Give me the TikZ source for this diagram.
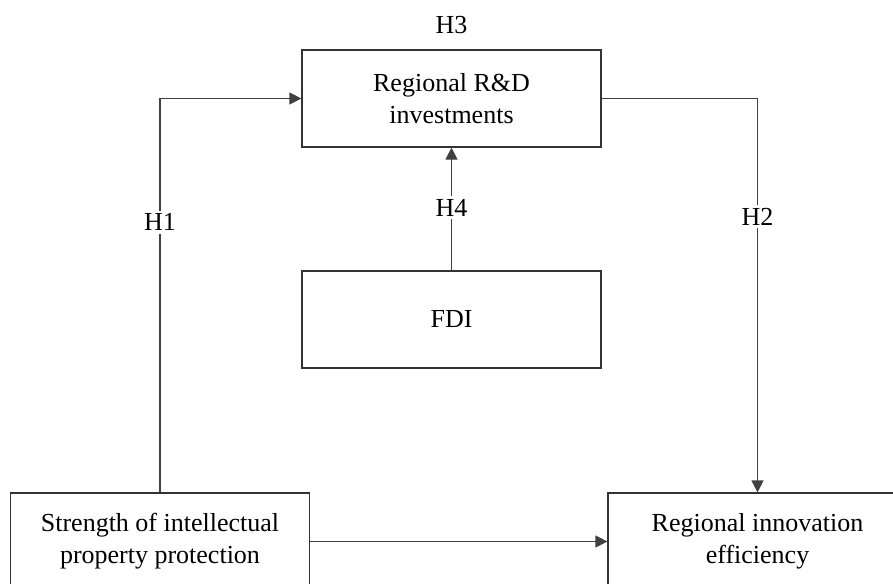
\documentclass[tikz,border=0pt]{standalone}
\usepackage{fontspec}
\setmainfont{Liberation Serif}
\usetikzlibrary{arrows.meta,positioning}

\begin{document}
\begin{tikzpicture}[x=1pt, y=1pt, font=\fontsize{26}{32}\selectfont,
block/.style={rectangle, draw=black!80, line width=1.2pt, minimum width=299pt, minimum height=97pt, inner sep=0pt, align=center},
hlabel/.style={fill=white, inner sep=3pt},
link/.style={draw=black!75, line width=1.2pt},
>={Triangle[length=12pt, width=12pt]}]
 \clip (0,0) rectangle (893,-583);
 \node[block] (rdinv) at (451.5,-98.5) {Regional R\&D\\investments};
 \node[block, below of=rdinv, node distance=221pt] (fdi) {FDI};
 \node[block] (ipp) at (160,-541.5) {Strength of intellectual\\property protection};
 \node[block, right of=ipp, node distance=597.5pt] (rie) {Regional innovation\\efficiency};
 \node[above of=rdinv, node distance=73.5pt] (hthree) {H3};

 \draw[link, ->] (ipp) |- node[hlabel, pos=0.343] (hone) {H1} (rdinv);
 \draw[link, ->] (rdinv) -| node[hlabel, pos=0.65] (htwo) {H2} (rie);
 \draw[link, ->] (fdi) -- node[hlabel, pos=0.51] (hfour) {H4} (rdinv);
 \draw[link, ->] (ipp) -- (rie);
\end{tikzpicture}
\end{document}
